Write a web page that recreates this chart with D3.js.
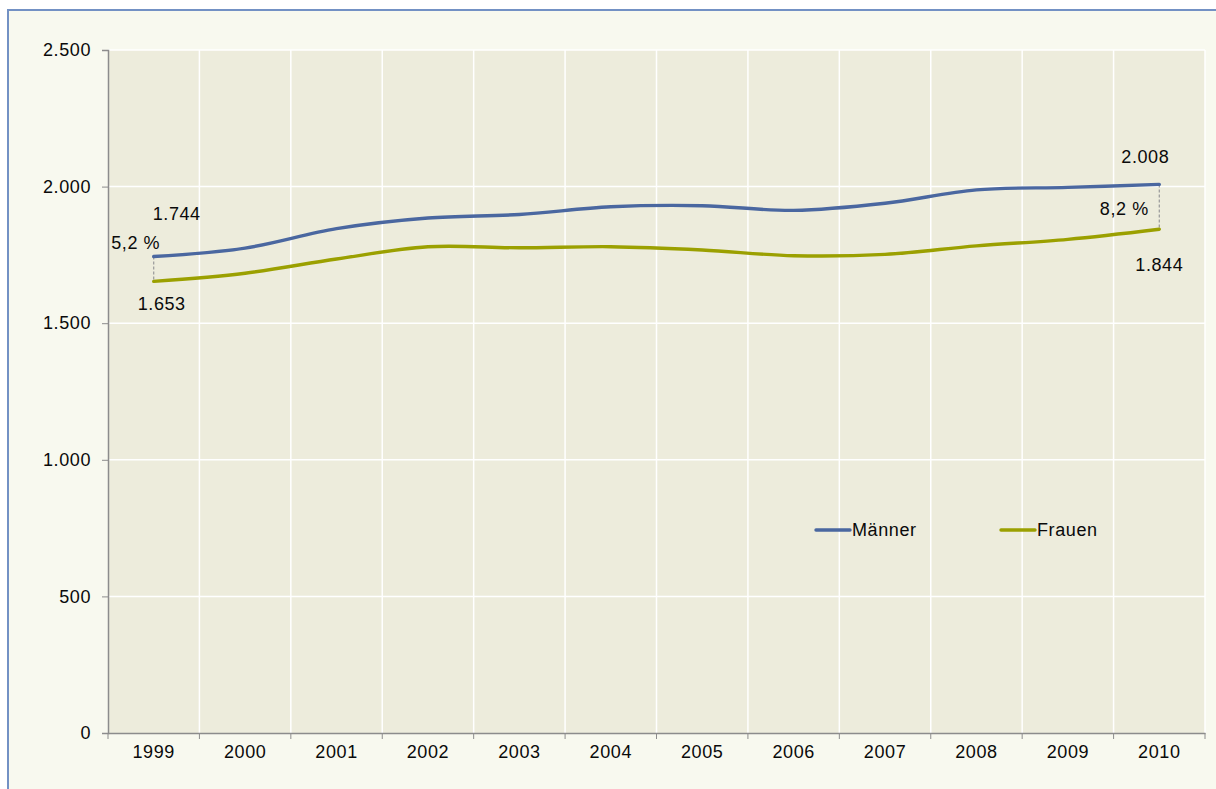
<!DOCTYPE html>
<html>
<head>
<meta charset="utf-8">
<script src="https://cdn.jsdelivr.net/npm/d3@7"></script>
<style>
  body { margin: 0; background: #fff; }
  text { font-family: "Liberation Sans", Arial, sans-serif; fill: #0a0a0a; }
</style>
</head>
<body>
<svg class="chart_svg" width="1216" height="789"></svg>
<script>
var years = ["1999", "2000", "2001", "2002", "2003", "2004", "2005", "2006", "2007", "2008", "2009", "2010"];
var maenner = [1744, 1775, 1846, 1885, 1898, 1926, 1930, 1913, 1939, 1988, 1997, 2008];
var frauen = [1653, 1683, 1735, 1780, 1776, 1780, 1768, 1747, 1752, 1783, 1807, 1844];
var yTicks = [0, 500, 1000, 1500, 2000, 2500];
var seriesNames = ["Männer", "Frauen"];
var seriesColors = ["#4a67a0", "#9ba000"];

var svg = d3.select(".chart_svg"),
    plotLeft = 108, plotRight = 1205,
    plotTop = 50, plotBottom = 733;

var fontSize = "18px", spacing = "0.6px";

var fmt = d3.formatLocale({ decimal: ",", thousands: ".", grouping: [3], currency: ["", "€"] }).format(",");

// outer frame
svg.append("rect")
    .attr("x", 8).attr("y", 10)
    .attr("width", 1230).attr("height", 800)
    .attr("fill", "#f8f9ef")
    .attr("stroke", "#7391c4")
    .attr("stroke-width", 2);

var x = d3.scaleBand().domain(years).range([plotLeft, plotRight]).padding(0);
var y = d3.scaleLinear().domain([0, 2500]).range([plotBottom, plotTop]);
var cx = function (d) { return x(d) + x.bandwidth() / 2; };

// plot area
svg.append("rect")
    .attr("x", plotLeft).attr("y", plotTop)
    .attr("width", plotRight - plotLeft).attr("height", plotBottom - plotTop)
    .attr("fill", "#edecdc");

// grid lines
svg.append("g").selectAll("line")
    .data(yTicks.slice(1))
    .join("line")
    .attr("x1", plotLeft).attr("x2", plotRight)
    .attr("y1", function (d) { return y(d); })
    .attr("y2", function (d) { return y(d); })
    .attr("stroke", "#fff").attr("stroke-width", 1.5);

svg.append("g").selectAll("line")
    .data(years.slice(1).concat(["end"]))
    .join("line")
    .attr("x1", function (d) { return d == "end" ? plotRight : x(d); })
    .attr("x2", function (d) { return d == "end" ? plotRight : x(d); })
    .attr("y1", plotTop).attr("y2", plotBottom)
    .attr("stroke", "#fff").attr("stroke-width", 1.5);

// axes
var yAxis = svg.append("g")
    .attr("transform", "translate(" + plotLeft + ",0)")
    .call(d3.axisLeft(y).tickValues(yTicks).tickSize(6).tickPadding(11).tickFormat(fmt));
var xAxis = svg.append("g")
    .attr("transform", "translate(0," + plotBottom + ")")
    .call(d3.axisBottom(x).tickSize(0).tickPadding(12));
xAxis.append("g").selectAll("line")
    .data(years.concat(["end"]))
    .join("line")
    .attr("x1", function (d) { return d == "end" ? plotRight : x(d); })
    .attr("x2", function (d) { return d == "end" ? plotRight : x(d); })
    .attr("y1", 0).attr("y2", 6)
    .attr("stroke", "#8c8c8c");
[yAxis, xAxis].forEach(function (a) {
    a.select(".domain").attr("stroke", "#8c8c8c").attr("stroke-width", 1.5);
    a.selectAll(".tick line").attr("stroke", "#8c8c8c");
    a.selectAll("text")
        .style("font-size", fontSize)
        .style("letter-spacing", spacing)
        .style("font-family", "Liberation Sans, Arial, sans-serif")
        .attr("fill", "#0a0a0a");
});

// difference markers
var first = 0, last = years.length - 1;
[first, last].forEach(function (i) {
    svg.append("line")
        .attr("x1", cx(years[i])).attr("x2", cx(years[i]))
        .attr("y1", y(maenner[i])).attr("y2", y(frauen[i]))
        .attr("stroke", "#999").attr("stroke-width", 1.2)
        .attr("stroke-dasharray", "3,2");
});

// lines
var line = d3.line()
    .x(function (d, i) { return cx(years[i]); })
    .y(function (d) { return y(d); })
    .curve(d3.curveCatmullRom.alpha(0.5));

[maenner, frauen].forEach(function (s, k) {
    svg.append("path")
        .attr("d", line(s))
        .attr("fill", "none")
        .attr("stroke", seriesColors[k])
        .attr("stroke-width", 3.4)
        .attr("stroke-linecap", "round");
});

// value labels
var pct = function (i) { return ((maenner[i] - frauen[i]) / maenner[i] * 100).toFixed(1).replace(".", ",") + " %"; };
var labels = [
    { t: fmt(maenner[first]), x: cx(years[first]) + 23, y: y(maenner[first]) - 43 },
    { t: pct(first), x: cx(years[first]) - 18, y: y(maenner[first]) - 14 },
    { t: fmt(frauen[first]), x: cx(years[first]) + 8, y: y(frauen[first]) + 22 },
    { t: fmt(maenner[last]), x: cx(years[last]) - 14, y: y(maenner[last]) - 28 },
    { t: pct(last), x: cx(years[last]) - 35, y: y(maenner[last]) + 24 },
    { t: fmt(frauen[last]), x: cx(years[last]), y: y(frauen[last]) + 35 }
];
svg.append("g").selectAll("text")
    .data(labels)
    .join("text")
    .attr("x", function (d) { return d.x; })
    .attr("y", function (d) { return d.y; })
    .attr("text-anchor", "middle")
    .attr("dy", ".35em")
    .style("font-size", fontSize)
    .style("letter-spacing", spacing)
    .text(function (d) { return d.t; });

// legend
var legendX = [816, 1001], legendY = 530;
seriesNames.forEach(function (n, k) {
    svg.append("line")
        .attr("x1", legendX[k]).attr("x2", legendX[k] + 34)
        .attr("y1", legendY).attr("y2", legendY)
        .attr("stroke", seriesColors[k]).attr("stroke-width", 3.4)
        .attr("stroke-linecap", "round");
    svg.append("text")
        .attr("x", legendX[k] + 36).attr("y", legendY)
        .attr("dy", ".35em")
        .style("font-size", fontSize)
        .style("letter-spacing", spacing)
        .text(n);
});
</script>
</body>
</html>
